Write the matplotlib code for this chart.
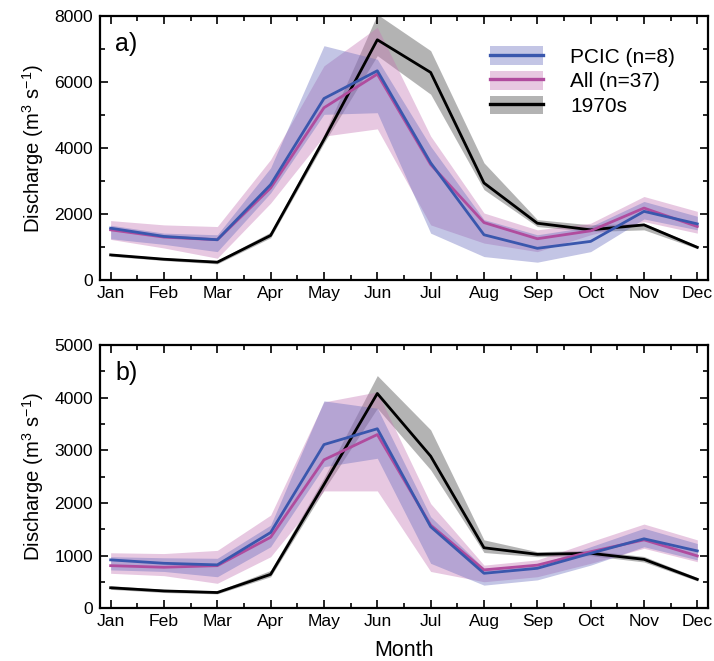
import matplotlib
matplotlib.use("Agg")
import matplotlib.pyplot as plt
from matplotlib.patches import Patch
from matplotlib.lines import Line2D
from matplotlib.ticker import MultipleLocator

plt.rcParams['font.family'] = ['Liberation Sans', 'DejaVu Sans']
plt.rcParams['mathtext.fontset'] = 'custom'
plt.rcParams['mathtext.rm'] = 'Liberation Sans'
plt.rcParams['mathtext.default'] = 'regular'

months = ['Jan', 'Feb', 'Mar', 'Apr', 'May', 'Jun',
          'Jul', 'Aug', 'Sep', 'Oct', 'Nov', 'Dec']
month_num = list(range(1, 13))

# panel a
a_pcic = [1570, 1320, 1220, 2890, 5500, 6340, 3550, 1370, 960, 1170, 2080, 1700]
a_pcic_lo = [1250, 1080, 860, 2640, 5020, 5070, 1420, 710, 540, 860, 1850, 1520]
a_pcic_hi = [1660, 1420, 1370, 3400, 7100, 6690, 4050, 1830, 1370, 1620, 2380, 1930]
a_all = [1520, 1300, 1220, 2790, 5220, 6240, 3500, 1740, 1250, 1490, 2180, 1620]
a_all_lo = [1230, 970, 660, 2330, 4360, 4580, 1670, 1120, 860, 1370, 1770, 1420]
a_all_hi = [1800, 1670, 1620, 3650, 6490, 7660, 4360, 2030, 1520, 1720, 2530, 2080]
a_70s = [760, 630, 540, 1350, 4260, 7280, 6290, 2940, 1720, 1520, 1670, 990]
a_70s_lo = [720, 590, 490, 1280, 4150, 6800, 5630, 2740, 1620, 1470, 1520, 950]
a_70s_hi = [800, 670, 590, 1450, 4400, 8050, 6950, 3550, 1830, 1670, 1720, 1040]

# panel b
b_pcic = [920, 855, 825, 1440, 3110, 3410, 1550, 665, 760, 1045, 1320, 1090]
b_pcic_lo = [730, 700, 600, 1170, 2690, 2850, 855, 440, 540, 820, 1170, 920]
b_pcic_hi = [980, 960, 950, 1580, 3940, 3800, 1740, 760, 820, 1170, 1520, 1230]
b_all = [810, 780, 810, 1350, 2820, 3300, 1580, 730, 820, 1075, 1300, 995]
b_all_lo = [665, 620, 475, 980, 2230, 2230, 700, 505, 600, 855, 1140, 885]
b_all_hi = [1055, 1040, 1100, 1770, 3920, 4110, 1990, 820, 920, 1265, 1600, 1300]
b_70s = [390, 330, 300, 645, 2350, 4080, 2890, 1150, 1025, 1045, 930, 550]
b_70s_lo = [360, 300, 275, 600, 2250, 3800, 2630, 1060, 980, 1000, 880, 520]
b_70s_hi = [430, 360, 330, 720, 2480, 4420, 3390, 1300, 1075, 1100, 985, 585]

blue_line = '#3a57ad'
blue_fill = '#6a6ebe'
pink_line = '#b04c9e'
pink_fill = '#c576b4'
gray_fill = '#696969'
fill_alpha = 0.4

fig = plt.figure(figsize=(7.14, 6.61), dpi=100)
ax_a = fig.add_axes([0.140, 0.5764, 0.8516, 0.3994])
ax_b = fig.add_axes([0.140, 0.0797, 0.8516, 0.3983])


def draw_panel(ax, pcic, pcic_lo, pcic_hi, allv, all_lo, all_hi, s70, s70_lo, s70_hi,
               ymax, major, minor, tag):
    ax.fill_between(month_num, s70_lo, s70_hi, color=gray_fill, alpha=0.5, lw=0)
    ax.fill_between(month_num, all_lo, all_hi, color=pink_fill, alpha=fill_alpha, lw=0)
    ax.fill_between(month_num, pcic_lo, pcic_hi, color=blue_fill, alpha=fill_alpha, lw=0)
    ax.plot(month_num, s70, color='black', lw=2.0)
    ax.plot(month_num, allv, color=pink_line, lw=2.0)
    ax.plot(month_num, pcic, color=blue_line, lw=2.0)

    ax.set_xlim(0.8, 12.2)
    ax.set_ylim(0, ymax)
    ax.set_xticks(month_num)
    ax.set_xticklabels(months)
    ax.xaxis.set_minor_locator(MultipleLocator(0.5))
    ax.yaxis.set_major_locator(MultipleLocator(major))
    ax.yaxis.set_minor_locator(MultipleLocator(minor))
    ax.tick_params(which='both', direction='in', top=True, right=True,
                   labelsize=12.6, width=1.2)
    ax.tick_params(which='major', length=6)
    ax.tick_params(which='minor', length=3.5)
    ax.tick_params(axis='y', pad=5)
    ax.tick_params(axis='x', pad=4)
    for sp in ax.spines.values():
        sp.set_linewidth(1.6)
    ax.set_ylabel('Discharge (m$^{3}$ s$^{-1}$)', fontsize=14.6)
    ax.yaxis.set_label_coords(-0.088, 0.5)
    ax.text(0.025, 0.94, tag, transform=ax.transAxes, fontsize=18,
            ha='left', va='top')


draw_panel(ax_a, a_pcic, a_pcic_lo, a_pcic_hi, a_all, a_all_lo, a_all_hi,
           a_70s, a_70s_lo, a_70s_hi, 8000, 2000, 1000, 'a)')
draw_panel(ax_b, b_pcic, b_pcic_lo, b_pcic_hi, b_all, b_all_lo, b_all_hi,
           b_70s, b_70s_lo, b_70s_hi, 5000, 1000, 500, 'b)')

ax_b.set_xlabel('Month', fontsize=15.5, labelpad=8)

handles = [
    (Patch(facecolor=blue_fill, alpha=fill_alpha, lw=0), Line2D([], [], color=blue_line, lw=2.4)),
    (Patch(facecolor=pink_fill, alpha=fill_alpha, lw=0), Line2D([], [], color=pink_line, lw=2.4)),
    (Patch(facecolor=gray_fill, alpha=0.5, lw=0), Line2D([], [], color='black', lw=2.4)),
]
ax_a.legend(handles, ['PCIC (n=8)', 'All (n=37)', '1970s'],
            loc='upper left', bbox_to_anchor=(0.641, 0.885), frameon=False,
            fontsize=15, handlelength=2.55, handleheight=1.0,
            handletextpad=1.3, labelspacing=0.2, borderpad=0, borderaxespad=0)

fig.savefig('out.png', dpi=100)
